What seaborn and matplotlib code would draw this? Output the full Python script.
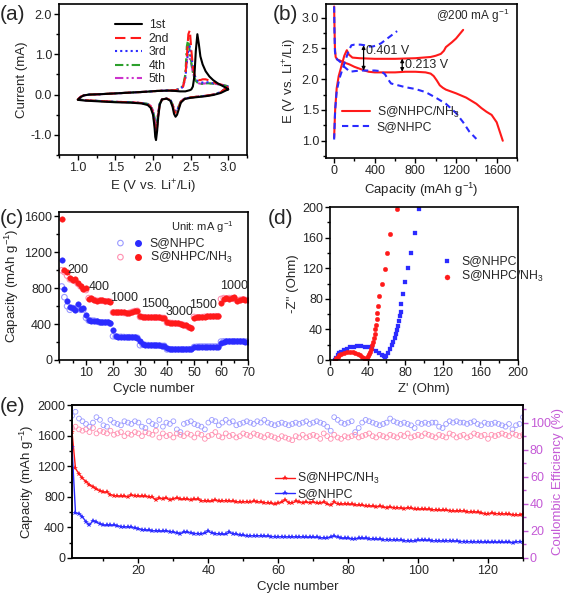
import numpy as np
import pandas as pd
import matplotlib
matplotlib.use('Agg')
import matplotlib.pyplot as plt
from matplotlib.ticker import AutoMinorLocator, MultipleLocator, FormatStrFormatter
import seaborn as sns

# ---------------- (a) CV curves ----------------
cath_e = [3.0, 2.9, 2.8, 2.7, 2.6, 2.5, 2.42, 2.37, 2.34, 2.32, 2.30, 2.28, 2.26, 2.23, 2.18,
          2.12, 2.09, 2.07, 2.055, 2.04, 2.03, 2.02, 2.0, 1.97, 1.93, 1.85, 1.7, 1.5, 1.3, 1.1, 1.0]
anod_e = [1.0, 1.04, 1.08, 1.15, 1.3, 1.5, 1.7, 1.9, 2.05, 2.2, 2.3, 2.36, 2.4, 2.43, 2.45, 2.47,
          2.49, 2.51, 2.53, 2.55, 2.57, 2.59, 2.61, 2.63, 2.66, 2.7, 2.75, 2.8, 2.86, 2.92, 2.97, 3.0]

cath_1 = [0.13, 0.04, -0.01, -0.04, -0.06, -0.08, -0.11, -0.2, -0.38, -0.5, -0.55, -0.48, -0.3, -0.15, -0.1,
          -0.12, -0.25, -0.55, -0.9, -1.13, -1.05, -0.8, -0.5, -0.33, -0.26, -0.22, -0.2, -0.19, -0.17, -0.15, -0.13]
cath_2 = [0.2, 0.06, 0.0, -0.03, -0.05, -0.07, -0.1, -0.18, -0.33, -0.43, -0.45, -0.4, -0.26, -0.13, -0.1,
          -0.12, -0.24, -0.5, -0.8, -0.95, -0.9, -0.7, -0.45, -0.3, -0.24, -0.21, -0.19, -0.18, -0.16, -0.14, -0.12]
cath_3 = [0.2, 0.06, 0.0, -0.03, -0.05, -0.07, -0.1, -0.17, -0.31, -0.4, -0.42, -0.38, -0.25, -0.13, -0.1,
          -0.12, -0.23, -0.47, -0.74, -0.86, -0.82, -0.64, -0.42, -0.29, -0.24, -0.21, -0.19, -0.18, -0.16, -0.14, -0.12]
cath_4 = [0.2, 0.06, 0.0, -0.03, -0.05, -0.07, -0.1, -0.17, -0.3, -0.4, -0.41, -0.37, -0.25, -0.13, -0.1,
          -0.12, -0.22, -0.44, -0.68, -0.78, -0.75, -0.6, -0.4, -0.28, -0.23, -0.21, -0.19, -0.18, -0.16, -0.14, -0.12]
cath_5 = [0.2, 0.06, 0.0, -0.03, -0.05, -0.07, -0.1, -0.17, -0.3, -0.39, -0.4, -0.36, -0.24, -0.13, -0.1,
          -0.12, -0.22, -0.42, -0.64, -0.72, -0.7, -0.57, -0.39, -0.28, -0.23, -0.21, -0.19, -0.18, -0.16, -0.14, -0.12]

anod_1 = [-0.13, -0.06, -0.02, 0.0, 0.01, 0.03, 0.05, 0.07, 0.09, 0.1, 0.09, 0.08, 0.08, 0.08, 0.09, 0.1,
          0.11, 0.13, 0.2, 0.45, 1.1, 1.5, 1.25, 0.95, 0.75, 0.58, 0.45, 0.36, 0.28, 0.22, 0.17, 0.13]
anod_2 = [-0.12, -0.05, -0.02, 0.0, 0.01, 0.03, 0.05, 0.07, 0.09, 0.1, 0.11, 0.14, 0.2, 0.45, 0.95, 1.5,
          1.6, 1.1, 0.7, 0.5, 0.42, 0.38, 0.36, 0.36, 0.38, 0.38, 0.35, 0.31, 0.27, 0.24, 0.22, 0.2]
anod_3 = [-0.12, -0.05, -0.02, 0.0, 0.01, 0.03, 0.05, 0.07, 0.09, 0.1, 0.11, 0.14, 0.2, 0.4, 0.8, 1.1,
          1.2, 0.95, 0.7, 0.5, 0.4, 0.35, 0.32, 0.3, 0.3, 0.31, 0.3, 0.28, 0.26, 0.24, 0.22, 0.2]
anod_4 = [-0.12, -0.05, -0.02, 0.0, 0.01, 0.03, 0.05, 0.07, 0.09, 0.1, 0.11, 0.15, 0.22, 0.5, 1.2, 1.4,
          1.0, 0.8, 0.55, 0.42, 0.34, 0.3, 0.28, 0.27, 0.27, 0.28, 0.28, 0.27, 0.26, 0.24, 0.22, 0.2]
anod_5 = [-0.12, -0.05, -0.02, 0.0, 0.01, 0.03, 0.05, 0.07, 0.09, 0.1, 0.11, 0.14, 0.2, 0.45, 0.85, 1.0,
          0.9, 0.75, 0.55, 0.42, 0.34, 0.3, 0.28, 0.27, 0.27, 0.28, 0.28, 0.27, 0.26, 0.24, 0.22, 0.2]
cv_labels = ["1st", "2nd", "3rd", "4th", "5th"]

# ---------------- (b) charge / discharge ----------------
nh3_dis_cap = [0, 3, 8, 15, 30, 60, 100, 150, 200, 250, 300, 340, 400, 500, 600, 700, 800, 900, 950,
               980, 1010, 1040, 1070, 1100, 1200, 1300, 1400, 1450, 1500, 1550, 1600, 1630, 1660]
nh3_dis_e = [3.18, 2.9, 2.5, 2.36, 2.32, 2.3, 2.27, 2.24, 2.2, 2.17, 2.14, 2.12, 2.11, 2.11, 2.11, 2.12, 2.12,
             2.11, 2.09, 2.05, 1.98, 1.9, 1.86, 1.83, 1.77, 1.7, 1.6, 1.53, 1.47, 1.42, 1.3, 1.15, 1.0]
nh3_chg_cap = [0, 10, 25, 45, 70, 100, 125, 145, 180, 250, 400, 600, 800, 950, 1000, 1050, 1080, 1100,
               1130, 1160, 1200, 1240, 1270]
nh3_chg_e = [1.05, 1.5, 1.85, 2.05, 2.2, 2.38, 2.47, 2.4, 2.35, 2.34, 2.33, 2.33, 2.34, 2.36, 2.38, 2.41,
             2.46, 2.52, 2.56, 2.6, 2.66, 2.74, 2.8]
nhpc_dis_cap = [0, 3, 8, 15, 30, 60, 100, 156, 200, 260, 320, 400, 460, 500, 530, 560, 700, 800, 900,
                1000, 1100, 1200, 1270, 1330, 1400]
nhpc_dis_e = [3.18, 2.8, 2.45, 2.36, 2.32, 2.28, 2.2, 2.12, 2.13, 2.14, 2.14, 2.14, 2.13, 2.08, 2.0, 1.93,
              1.87, 1.84, 1.79, 1.7, 1.6, 1.45, 1.3, 1.15, 1.03]
nhpc_chg_cap = [0, 10, 25, 50, 80, 110, 140, 170, 200, 260, 300, 340, 380, 420, 460, 500, 540, 580, 620]
nhpc_chg_e = [1.02, 1.5, 1.8, 2.0, 2.15, 2.3, 2.45, 2.55, 2.56, 2.56, 2.55, 2.53, 2.53, 2.55, 2.58, 2.63,
              2.68, 2.73, 2.78]
gap_big = (290, 2.14, 2.55)
gap_small = (670, 2.12, 2.335)

# ---------------- (c) rate capability ----------------
rate_cycle = list(range(1, 71))
rate_nh3_dis = [1570, 1000, 980, 910, 895, 900, 860, 830, 790, 800,
                680, 690, 665, 660, 665, 665, 660, 660, 645,
                530, 530, 530, 535, 530, 520, 525, 540, 550, 550,
                485, 480, 478, 475, 475, 475, 475, 475, 472, 470,
                420, 418, 415, 412, 408, 402, 395, 385, 368, 358,
                470, 475, 478, 480, 483, 485, 485, 488, 490, 490,
                640, 680, 690, 680, 695, 700, 660, 670, 680, 670, 670]
rate_nh3_chg = [1000, 980, 940, 900, 890, 880, 850, 820, 790, 780,
                690, 680, 670, 660, 660, 660, 655, 655, 650,
                530, 528, 528, 530, 525, 520, 525, 535, 545, 548,
                480, 478, 476, 474, 474, 474, 474, 472, 470, 468,
                415, 415, 412, 410, 405, 400, 392, 382, 365, 355,
                480, 472, 476, 478, 482, 484, 484, 486, 488, 488,
                680, 690, 685, 690, 690, 680, 665, 670, 675, 670, 668]
rate_nhpc_dis = [1110, 790, 660, 590, 585, 560, 620, 570, 575, 500,
                 450, 440, 440, 435, 425, 420, 420, 425, 410,
                 330, 265, 260, 260, 258, 255, 255, 255, 255, 250,
                 210, 175, 170, 168, 165, 165, 165, 162, 160, 160,
                 130, 122, 120, 120, 120, 120, 120, 120, 120, 122,
                 140, 148, 150, 150, 150, 150, 150, 150, 150, 150,
                 190, 205, 208, 208, 208, 208, 208, 208, 208, 206, 206]
rate_nhpc_chg = [820, 700, 600, 560, 580, 560, 590, 560, 560, 470,
                 440, 440, 438, 430, 420, 418, 418, 420, 405,
                 265, 262, 258, 258, 256, 254, 254, 254, 252, 248,
                 165, 170, 168, 166, 164, 164, 162, 160, 158, 158,
                 118, 120, 118, 118, 118, 118, 118, 118, 120, 120,
                 145, 148, 150, 150, 150, 150, 150, 150, 150, 150,
                 205, 208, 208, 208, 208, 208, 208, 208, 206, 206, 206]
rate_labels = ["200", "400", "1000", "1500", "3000", "1500", "1000"]
rate_label_pos = [(7, 1000), (15, 810), (24, 690), (35.5, 625), (44.5, 530), (53.5, 615), (65, 820)]

# ---------------- (d) Nyquist ----------------
eis_nhpc_re = [5, 6, 8, 10, 12, 15, 18, 21, 25, 29, 33, 37, 41, 45, 49, 52, 55, 57, 58.5, 60, 62, 64,
               66, 67.5, 69, 70, 71, 72, 73, 74, 75, 76, 78, 80, 83, 86, 90, 95]
eis_nhpc_im = [0, 3, 6, 8.5, 10.5, 13, 15, 16.5, 17.5, 18, 18, 17.5, 16.5, 14.5, 12, 9.5, 7, 5, 4, 5.5,
               9, 14, 19, 24, 29, 34, 39, 45, 51, 57, 63, 73, 86, 102, 120, 140, 166, 198]
eis_nh3_re = [5, 6, 8, 10, 12, 15, 18, 21, 24, 27, 30, 32, 34, 36, 37.5, 39, 40.5, 42, 43, 44, 45, 46,
              46.8, 47.5, 48.2, 49, 49.7, 50.5, 51.5, 52.5, 55, 58, 61, 64, 71]
eis_nh3_im = [0, 2, 4, 6, 7.5, 9, 10, 10.3, 10, 9.3, 8, 6.5, 4.5, 2.5, 1.5, 2.5, 5, 8, 11, 15, 19, 24,
              29, 34, 40, 46, 53, 61, 71, 84, 100, 119, 140, 165, 197]

# ---------------- (e) long cycling ----------------
cyc = list(range(1, 131))
cap_nh3 = [1650, 1170, 1100, 1040, 1000, 960, 930, 900, 880, 860,
           860, 830, 815, 810, 805, 805, 800, 820, 815, 810,
           805, 805, 800, 795, 760, 780, 775, 785, 760, 770,
           790, 765, 770, 770, 760, 765, 770, 745, 750, 740,
           745, 760, 740, 745, 750, 745, 740, 735, 730, 735,
           735, 730, 740, 735, 730, 725, 720, 715, 700, 715,
           730, 760, 725, 720, 740, 730, 725, 730, 725, 730,
           720, 715, 730, 705, 690, 730, 705, 700, 710, 700,
           700, 695, 690, 690, 680, 680, 675, 670, 675, 665,
           660, 665, 655, 660, 650, 645, 660, 650, 640, 635,
           640, 635, 635, 630, 630, 625, 625, 625, 620, 615,
           610, 620, 610, 605, 600, 605, 595, 590, 580, 575,
           585, 580, 580, 575, 575, 570, 565, 565, 560, 570]
cap_nhpc = [1450, 590, 580, 540, 470, 430, 490, 470, 445, 430,
            425, 425, 430, 420, 410, 405, 405, 400, 390, 385,
            370, 365, 360, 355, 355, 350, 350, 355, 345, 340,
            325, 320, 340, 335, 330, 320, 320, 315, 325, 350,
            325, 320, 315, 310, 310, 335, 320, 310, 300, 295,
            290, 290, 290, 290, 290, 285, 285, 280, 280, 275,
            280, 275, 275, 275, 275, 275, 275, 270, 270, 270,
            270, 265, 260, 260, 275, 285, 270, 260, 255, 255,
            250, 250, 255, 255, 255, 250, 250, 245, 245, 240,
            240, 240, 235, 235, 235, 225, 225, 220, 225, 230,
            235, 230, 230, 225, 225, 225, 220, 225, 225, 220,
            220, 215, 215, 215, 210, 210, 210, 210, 205, 205,
            205, 205, 205, 205, 205, 205, 200, 210, 215, 215]
ce_nhpc = [105, 108, 103, 101, 99, 97, 100, 104, 102, 98,
           97, 102, 100, 99, 98, 101, 100, 99, 101, 100,
           97, 96, 101, 99, 98, 102, 97, 100, 99, 101,
           95, 93, 99, 100, 101, 99, 98, 97, 95, 100,
           102, 101, 98, 100, 102, 100, 101, 98, 99, 100,
           101, 100, 99, 101, 100, 102, 100, 99, 98, 99,
           100, 99, 98, 99, 100, 99, 100, 101, 99, 100,
           101, 100, 99, 97, 94, 104, 102, 100, 99, 100,
           101, 93, 96, 100, 102, 101, 100, 99, 98, 99,
           100, 103, 101, 100, 99, 100, 99, 98, 96, 100,
           99, 100, 99, 100, 100, 97, 96, 99, 101, 100,
           101, 100, 100, 99, 100, 101, 99, 98, 100, 99,
           99, 100, 99, 98, 97, 99, 95, 98, 99, 104]
ce_nh3 = [96, 97, 95, 94, 95, 93, 96, 92, 94, 93,
          92, 94, 91, 92, 93, 90, 92, 91, 93, 92,
          90, 93, 92, 91, 94, 89, 92, 90, 91, 89,
          92, 91, 90, 92, 91, 89, 92, 91, 88, 90,
          91, 93, 90, 89, 92, 90, 91, 89, 90, 92,
          91, 90, 92, 91, 90, 89, 91, 90, 89, 88,
          90, 89, 88, 87, 90, 89, 91, 89, 90, 91,
          90, 88, 92, 90, 88, 91, 89, 88, 90, 89,
          90, 91, 89, 90, 91, 92, 90, 89, 91, 90,
          89, 91, 90, 89, 91, 90, 92, 89, 90, 91,
          90, 92, 91, 90, 89, 91, 90, 89, 92, 91,
          89, 90, 91, 89, 90, 92, 91, 90, 91, 88,
          91, 90, 91, 92, 91, 90, 92, 91, 90, 91]

RED = "#ff1a1a"
BLUE = "#2b2bff"
PINK = "#ff8fb0"
LBLUE = "#9a9aff"
VIOLET = "#c45ad6"
NH3 = "S@NHPC/NH$_3$"
NHPC = "S@NHPC"

sns.set_theme(style="ticks")
plt.rcParams['font.family'] = ['Liberation Sans', 'DejaVu Sans']
plt.rcParams['mathtext.default'] = 'regular'
plt.rcParams['axes.linewidth'] = 1.2

W, H = 567, 599
fig = plt.figure(figsize=(W / 100, H / 100), dpi=100)

TICK = 9
LAB = 9.5
LEG = 8.8


def px_axes(left, top, right, bottom):
    return fig.add_axes([left / W, 1 - bottom / H, (right - left) / W, (bottom - top) / H])


def style_axes(ax):
    for s in ax.spines.values():
        s.set_linewidth(1.2)
        s.set_color("black")
        s.set_visible(True)
    ax.tick_params(which="both", direction="out", top=False, right=False, labelsize=TICK,
                   width=1, color="black", pad=1.5)
    ax.tick_params(which="major", length=3.5)
    ax.tick_params(which="minor", length=2)
    ax.xaxis.set_minor_locator(AutoMinorLocator(2))
    ax.yaxis.set_minor_locator(AutoMinorLocator(2))


# ---- (a)
ax_a = px_axes(59, 4, 247, 155)
cv_styles = [("black", "-"), (RED, (0, (5, 2.5))), (BLUE, (0, (1, 1.5))),
             ("#2ca02c", (0, (4, 1.5, 1, 1.5))), ("#cc33cc", (0, (4, 1.5, 1, 1.5, 1, 1.5)))]
cath_all = [cath_1, cath_2, cath_3, cath_4, cath_5]
anod_all = [anod_1, anod_2, anod_3, anod_4, anod_5]
for i in range(4, -1, -1):
    col, ls = cv_styles[i]
    loop = pd.DataFrame({"E": cath_e + anod_e, "I": cath_all[i] + anod_all[i]})
    sns.lineplot(data=loop, x="E", y="I", ax=ax_a, sort=False, estimator=None,
                 color=col, linestyle=ls, linewidth=1.5, label=cv_labels[i])
h, l = ax_a.get_legend_handles_labels()
ax_a.legend(h[::-1], l[::-1], loc="upper left", bbox_to_anchor=(0.27, 0.93), frameon=False,
            fontsize=LEG, handlelength=2.2, labelspacing=0.12, handletextpad=0.6, borderaxespad=0)
ax_a.set_xlim(0.75, 3.25)
ax_a.set_ylim(-1.5, 2.25)
ax_a.xaxis.set_major_locator(MultipleLocator(0.5))
ax_a.yaxis.set_major_locator(MultipleLocator(1.0))
ax_a.xaxis.set_major_formatter(FormatStrFormatter("%.1f"))
ax_a.yaxis.set_major_formatter(FormatStrFormatter("%.1f"))
ax_a.set_xlabel("E (V vs. Li$^{+}$/Li)", fontsize=LAB, labelpad=3)
ax_a.set_ylabel("Current (mA)", fontsize=LAB, labelpad=2)
style_axes(ax_a)

# ---- (b)
ax_b = px_axes(326, 4, 517, 158)
sns.lineplot(x=nh3_dis_cap, y=nh3_dis_e, ax=ax_b, sort=False, estimator=None, color=RED,
             linewidth=1.5, label=NH3)
sns.lineplot(x=nh3_chg_cap, y=nh3_chg_e, ax=ax_b, sort=False, estimator=None, color=RED,
             linewidth=1.5)
sns.lineplot(x=nhpc_dis_cap, y=nhpc_dis_e, ax=ax_b, sort=False, estimator=None, color=BLUE,
             linewidth=1.5, linestyle=(0, (3, 2)), label=NHPC)
sns.lineplot(x=nhpc_chg_cap, y=nhpc_chg_e, ax=ax_b, sort=False, estimator=None, color=BLUE,
             linewidth=1.5, linestyle=(0, (3, 2)))
for gx, glo, ghi in [gap_big, gap_small]:
    ax_b.annotate("", xy=(gx, ghi), xytext=(gx, glo),
                  arrowprops=dict(arrowstyle="<|-|>", lw=0.9, color="black", shrinkA=0, shrinkB=0,
                                  mutation_scale=5))
ax_b.text(gap_big[0] + 25, 2.45, "0.401 V", fontsize=TICK, va="center")
ax_b.text(gap_small[0] + 25, 2.23, "0.213 V", fontsize=TICK, va="center")
ax_b.text(0.96, 0.92, "@200 mA g$^{-1}$", transform=ax_b.transAxes, ha="right", va="center", fontsize=8.5)
ax_b.legend(loc="lower left", bbox_to_anchor=(0.06, 0.13), frameon=False, fontsize=LEG,
            handlelength=2.3, labelspacing=0.1, handletextpad=0.5, borderaxespad=0)
ax_b.set_xlim(-80, 1800)
ax_b.set_ylim(0.72, 3.22)
ax_b.xaxis.set_major_locator(MultipleLocator(400))
ax_b.yaxis.set_major_locator(MultipleLocator(0.5))
ax_b.yaxis.set_major_formatter(FormatStrFormatter("%.1f"))
ax_b.set_xlabel("Capacity (mAh g$^{-1}$)", fontsize=LAB, labelpad=3)
ax_b.set_ylabel("E (V vs. Li$^{+}$/Li)", fontsize=LAB, labelpad=2)
style_axes(ax_b)

# ---- (c)
ax_c = px_axes(59, 212, 248, 360)
sns.scatterplot(x=rate_cycle, y=rate_nhpc_chg, ax=ax_c, marker="o", s=16, facecolor="none",
                edgecolor=LBLUE, linewidth=0.8)
sns.scatterplot(x=rate_cycle, y=rate_nh3_chg, ax=ax_c, marker="o", s=16, facecolor="none",
                edgecolor=PINK, linewidth=0.8)
sns.scatterplot(x=rate_cycle, y=rate_nhpc_dis, ax=ax_c, marker="o", s=16, color=BLUE,
                edgecolor=BLUE, linewidth=0.3)
sns.scatterplot(x=rate_cycle, y=rate_nh3_dis, ax=ax_c, marker="o", s=16, color=RED,
                edgecolor=RED, linewidth=0.3)
for txt, (tx, ty) in zip(rate_labels, rate_label_pos):
    ax_c.text(tx, ty, txt, ha="center", va="center", fontsize=TICK)
ax_c.text(0.76, 0.9, "Unit: mA g$^{-1}$", transform=ax_c.transAxes, ha="center", va="center",
          fontsize=8)
for j, (oc, fc, nm) in enumerate([(LBLUE, BLUE, NHPC), (PINK, RED, NH3)]):
    yy = 0.79 - j * 0.095
    ax_c.scatter([0.325], [yy], s=16, facecolor="none", edgecolor=oc, linewidth=0.8,
                 transform=ax_c.transAxes, clip_on=False)
    ax_c.scatter([0.42], [yy], s=16, color=fc, transform=ax_c.transAxes, clip_on=False)
    ax_c.text(0.48, yy, nm, transform=ax_c.transAxes, va="center", fontsize=LEG)
ax_c.set_xlim(0, 70)
ax_c.set_ylim(0, 1650)
ax_c.set_xticks([10, 20, 30, 40, 50, 60, 70])
ax_c.yaxis.set_major_locator(MultipleLocator(400))
ax_c.set_xlabel("Cycle number", fontsize=LAB, labelpad=3)
ax_c.set_ylabel("Capacity (mAh g$^{-1}$)", fontsize=LAB, labelpad=2)
style_axes(ax_c)
ax_c.xaxis.set_minor_locator(MultipleLocator(5))

# ---- (d)
ax_d = px_axes(330, 207, 518, 360)
sns.scatterplot(x=eis_nhpc_re, y=eis_nhpc_im, ax=ax_d, marker="s", s=10, color=BLUE,
                edgecolor=BLUE, linewidth=0.2, label=NHPC)
sns.scatterplot(x=eis_nh3_re, y=eis_nh3_im, ax=ax_d, marker="o", s=11, color=RED,
                edgecolor=RED, linewidth=0.2, label=NH3)
ax_d.legend(loc="upper left", bbox_to_anchor=(0.53, 0.72), frameon=False, fontsize=LEG,
            handletextpad=0.2, labelspacing=0.2, borderaxespad=0, markerscale=1.1)
ax_d.set_xlim(0, 200)
ax_d.set_ylim(0, 200)
ax_d.xaxis.set_major_locator(MultipleLocator(40))
ax_d.yaxis.set_major_locator(MultipleLocator(40))
ax_d.set_xlabel("Z' (Ohm)", fontsize=LAB, labelpad=3)
ax_d.set_ylabel("-Z'' (Ohm)", fontsize=LAB, labelpad=2)
style_axes(ax_d)

# ---- (e)
ax_e = px_axes(72, 405, 523, 558)
ax_ce = ax_e.twinx()
sns.scatterplot(x=cyc, y=ce_nhpc, ax=ax_ce, marker="o", s=12, facecolor="none",
                edgecolor=LBLUE, linewidth=0.6)
sns.scatterplot(x=cyc, y=ce_nh3, ax=ax_ce, marker="o", s=12, facecolor="none",
                edgecolor=PINK, linewidth=0.6)
sns.lineplot(x=cyc, y=cap_nh3, ax=ax_e, color=RED, linewidth=1.0, marker="*", markersize=4,
             markeredgewidth=0, label=NH3)
sns.lineplot(x=cyc, y=cap_nhpc, ax=ax_e, color=BLUE, linewidth=1.0, marker="*", markersize=4,
             markeredgewidth=0, label=NHPC)
ax_e.legend(loc="upper left", bbox_to_anchor=(0.44, 0.6), frameon=False, fontsize=LEG,
            handlelength=1.6, handletextpad=0.2, labelspacing=0.15, borderaxespad=0)
ax_e.set_xlim(1, 130)
ax_e.set_ylim(0, 2000)
ax_e.xaxis.set_major_locator(MultipleLocator(20))
ax_e.yaxis.set_major_locator(MultipleLocator(400))
ax_e.set_xlabel("Cycle number", fontsize=LAB, labelpad=3)
ax_e.set_ylabel("Capacity (mAh g$^{-1}$)", fontsize=LAB, labelpad=1)
style_axes(ax_e)
ax_ce.set_ylim(0, 113)
ax_ce.yaxis.set_major_locator(MultipleLocator(20))
ax_ce.yaxis.set_minor_locator(AutoMinorLocator(2))
ax_ce.tick_params(axis="y", which="both", direction="out", colors=VIOLET, labelsize=TICK, width=1, pad=1.5)
ax_ce.tick_params(axis="y", which="major", length=3.5)
ax_ce.tick_params(axis="y", which="minor", length=2)
ax_ce.spines["right"].set_color(VIOLET)
ax_ce.spines["right"].set_linewidth(1.2)
ax_ce.set_ylabel("Coulombic Efficiency (%)", fontsize=LAB, color=VIOLET, labelpad=1)
ax_e.set_zorder(ax_ce.get_zorder() + 1)
ax_e.patch.set_visible(False)

for txt, px, py in [("(a)", 0, 14), ("(b)", 273, 14), ("(c)", 0, 218), ("(d)", 268, 218), ("(e)", 0, 406)]:
    fig.text(px / W, 1 - py / H, txt, fontsize=15, va="center", ha="left")

fig.savefig("out.png", dpi=100)
